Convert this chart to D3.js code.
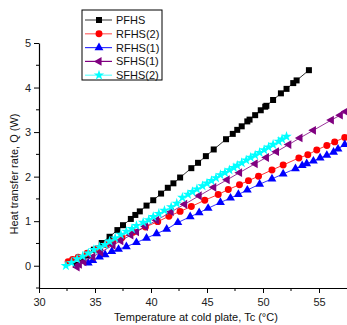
<!DOCTYPE html>
<html>
<head>
<meta charset="utf-8">
<script src="https://cdn.jsdelivr.net/npm/d3@7"></script>
<style>
  body { margin: 0; background: #fff; }
  svg { display: block; font-family: Arial, "Liberation Sans", sans-serif; }
</style>
</head>
<body>
<svg id="chart" width="347" height="325"></svg>
<script>
// values (T in °C, Q in W)
const pfhsT = [33.3, 33.8, 34.3, 34.9, 35.6, 36.3, 37.0, 37.5, 38.2, 38.6, 39.0, 39.6, 40.2, 40.9, 41.5, 42.0, 42.6, 43.6, 44.2, 44.9, 45.6, 46.7, 47.3, 47.7, 48.1, 48.6, 48.8, 49.3, 49.8, 50.2, 50.3, 50.9, 51.6, 52.1, 52.7, 53.0, 54.1];
const pfhsQ = [0.02, 0.13, 0.23, 0.36, 0.51, 0.65, 0.80, 0.91, 1.05, 1.14, 1.22, 1.35, 1.47, 1.62, 1.75, 1.85, 1.98, 2.19, 2.31, 2.46, 2.61, 2.84, 2.96, 3.05, 3.13, 3.24, 3.28, 3.38, 3.49, 3.57, 3.59, 3.72, 3.87, 3.97, 4.10, 4.16, 4.39];

const rfhs2T = [32.6, 33.0, 33.5, 34.3, 35.2, 36.0, 36.6, 37.4, 38.4, 39.5, 40.6, 41.6, 42.6, 43.6, 44.8, 46.0, 46.9, 47.9, 48.7, 49.6, 50.8, 51.8, 53.2, 54.0, 54.8, 55.7, 56.4, 57.3];
const rfhs2Q = [0.09, 0.14, 0.19, 0.28, 0.38, 0.47, 0.54, 0.63, 0.75, 0.87, 0.99, 1.11, 1.22, 1.33, 1.47, 1.60, 1.71, 1.82, 1.91, 2.01, 2.15, 2.26, 2.42, 2.49, 2.60, 2.70, 2.78, 2.88];

const rfhs1T = [34.4, 34.8, 35.4, 35.9, 36.5, 37.1, 37.8, 38.7, 39.6, 40.5, 41.4, 42.4, 43.5, 44.3, 45.1, 46.2, 47.1, 47.8, 48.6, 49.7, 50.8, 51.8, 52.9, 53.5, 53.9, 54.5, 55.1, 55.7, 56.3, 56.7, 57.3];
const rfhs1Q = [0.06, 0.12, 0.20, 0.25, 0.32, 0.37, 0.43, 0.52, 0.62, 0.72, 0.82, 0.97, 1.10, 1.19, 1.29, 1.42, 1.52, 1.60, 1.70, 1.83, 1.95, 2.06, 2.18, 2.25, 2.29, 2.35, 2.42, 2.48, 2.55, 2.62, 2.72];

const sfhs1T = [33.4, 33.6, 34.0, 34.8, 35.5, 36.6, 37.3, 38.2, 38.7, 39.5, 40.5, 41.8, 43.0, 44.3, 45.6, 46.8, 47.9, 49.3, 50.3, 51.2, 52.3, 53.3, 54.5, 56.1, 56.9, 57.4];
const sfhs1Q = [-0.03, 0.03, 0.09, 0.20, 0.30, 0.46, 0.56, 0.69, 0.76, 0.88, 1.02, 1.21, 1.38, 1.57, 1.76, 1.93, 2.09, 2.29, 2.43, 2.56, 2.72, 2.87, 3.04, 3.27, 3.38, 3.46];

const sfhs2T = [32.4, 32.9, 33.4, 33.9, 34.4, 34.9, 35.4, 35.9, 36.3, 36.8, 37.3, 37.8, 38.3, 38.7, 39.3, 39.8, 40.2, 40.7, 41.2, 41.8, 42.3, 42.8, 43.3, 43.7, 44.1, 44.6, 45.0, 45.4, 45.8, 46.2, 46.6, 47.0, 47.4, 47.7, 48.1, 48.5, 48.9, 49.3, 49.7, 50.1, 50.5, 50.9, 51.4, 51.7, 52.1];
const sfhs2Q = [0.00, 0.07, 0.15, 0.21, 0.28, 0.36, 0.42, 0.47, 0.55, 0.62, 0.70, 0.77, 0.83, 0.90, 0.97, 1.03, 1.10, 1.17, 1.24, 1.32, 1.40, 1.53, 1.60, 1.66, 1.72, 1.79, 1.85, 1.91, 1.97, 2.04, 2.09, 2.15, 2.20, 2.25, 2.31, 2.37, 2.43, 2.48, 2.54, 2.60, 2.66, 2.72, 2.79, 2.84, 2.90];

const seriesNames = ['PFHS', 'RFHS(2)', 'RFHS(1)', 'SFHS(1)', 'SFHS(2)'];
const xTicks = [30, 35, 40, 45, 50, 55];
const yTicks = [0, 1, 2, 3, 4, 5];

const series = [
  { name: seriesNames[0], t: pfhsT, q: pfhsQ, color: '#000000', legendLine: '#555555', shape: d3.symbolSquare, size: 36, rot: 0 },
  { name: seriesNames[1], t: rfhs2T, q: rfhs2Q, color: '#ff0000', legendLine: '#ff6666', shape: d3.symbolCircle, size: 38, rot: 0 },
  { name: seriesNames[2], t: rfhs1T, q: rfhs1Q, color: '#0000ff', legendLine: '#3333ff', shape: d3.symbolTriangle, size: 34, rot: 0 },
  { name: seriesNames[3], t: sfhs1T, q: sfhs1Q, color: '#800080', legendLine: '#800080', shape: d3.symbolTriangle, size: 34, rot: -90 },
  { name: seriesNames[4], t: sfhs2T, q: sfhs2Q, color: '#00ffff', legendLine: '#66ffff', shape: d3.symbolStar, size: 34, rot: 0 }
];

const svg = d3.select('#chart');
const plotLeft = 39, plotRight = 347, plotTop = 43, plotBottom = 288;

const x = d3.scaleLinear().domain([30, 57.5]).range([plotLeft, plotRight]);
const y = d3.scaleLinear().domain([-0.5, 5]).range([plotBottom, plotTop]);

svg.append('defs').append('clipPath').attr('id', 'plot')
  .append('rect').attr('x', plotLeft).attr('y', 0).attr('width', plotRight - plotLeft).attr('height', plotBottom);

// axes
const xAxis = svg.append('g').attr('transform', `translate(0,${plotBottom})`)
  .call(d3.axisBottom(x).tickValues(xTicks).tickFormat(d3.format('d')).tickSize(5).tickSizeOuter(0));
xAxis.append('g').selectAll('line')
  .data(d3.range(32.5, 57.5, 5))
  .join('line')
  .attr('x1', d => x(d)).attr('x2', d => x(d))
  .attr('y1', 0).attr('y2', 3)
  .attr('stroke', '#000');

const yAxis = svg.append('g').attr('transform', `translate(${plotLeft},0)`)
  .call(d3.axisLeft(y).tickValues(yTicks).tickFormat(d3.format('d')).tickSize(5).tickSizeOuter(0));
yAxis.append('g').selectAll('line')
  .data(d3.range(-0.5, 5, 1))
  .join('line')
  .attr('y1', d => y(d)).attr('y2', d => y(d))
  .attr('x1', 0).attr('x2', -3)
  .attr('stroke', '#000');

[xAxis, yAxis].forEach(a => {
  a.select('.domain').attr('stroke', '#000').attr('stroke-width', 1.2);
  a.selectAll('.tick line').attr('stroke', '#000');
  a.selectAll('.tick text').attr('font-size', 11).attr('fill', '#222').attr('font-family', 'Arial, "Liberation Sans", sans-serif');
});
xAxis.selectAll('.tick text').attr('dy', '0.95em');

// axis titles
svg.append('text')
  .attr('x', (plotLeft + plotRight) / 2 + 3)
  .attr('y', 321)
  .attr('text-anchor', 'middle')
  .attr('font-size', 11)
  .attr('fill', '#111')
  .text('Temperature at cold plate, Tc (°C)');

svg.append('text')
  .attr('transform', 'translate(18,174) rotate(-90)')
  .attr('text-anchor', 'middle')
  .attr('font-size', 11)
  .attr('fill', '#111')
  .text('Heat transfer rate, Q (W)');

// series
const plot = svg.append('g').attr('clip-path', 'url(#plot)');
const line = d3.line().x(d => x(d[0])).y(d => y(d[1]));

series.forEach(s => {
  const pts = s.t.map((t, i) => [t, s.q[i]]);
  plot.append('path')
    .datum(pts)
    .attr('fill', 'none')
    .attr('stroke', s.color)
    .attr('stroke-width', 0.8)
    .attr('d', line);
  plot.append('g').selectAll('path')
    .data(pts)
    .join('path')
    .attr('d', d3.symbol(s.shape, s.size))
    .attr('transform', d => `translate(${x(d[0])},${y(d[1])}) rotate(${s.rot})`)
    .attr('fill', s.color);
});

// legend
const legend = svg.append('g').attr('transform', 'translate(82,10)');
legend.append('rect')
  .attr('width', 80).attr('height', 70)
  .attr('fill', '#fff').attr('stroke', '#000').attr('stroke-width', 1);
const rows = legend.selectAll('g.row')
  .data(series)
  .join('g')
  .attr('class', 'row')
  .attr('transform', (d, i) => `translate(0,${10 + i * 13.8})`);
rows.append('line')
  .attr('x1', 3).attr('x2', 30)
  .attr('stroke', d => d.legendLine).attr('stroke-width', 1.2);
rows.append('path')
  .attr('d', d => d3.symbol(d.shape, d.size)())
  .attr('transform', d => `translate(17,0) rotate(${d.rot})`)
  .attr('fill', d => d.color);
rows.append('text')
  .attr('x', 34).attr('dy', '0.36em')
  .attr('font-size', 11)
  .attr('fill', '#111')
  .text(d => d.name);
</script>
</body>
</html>
